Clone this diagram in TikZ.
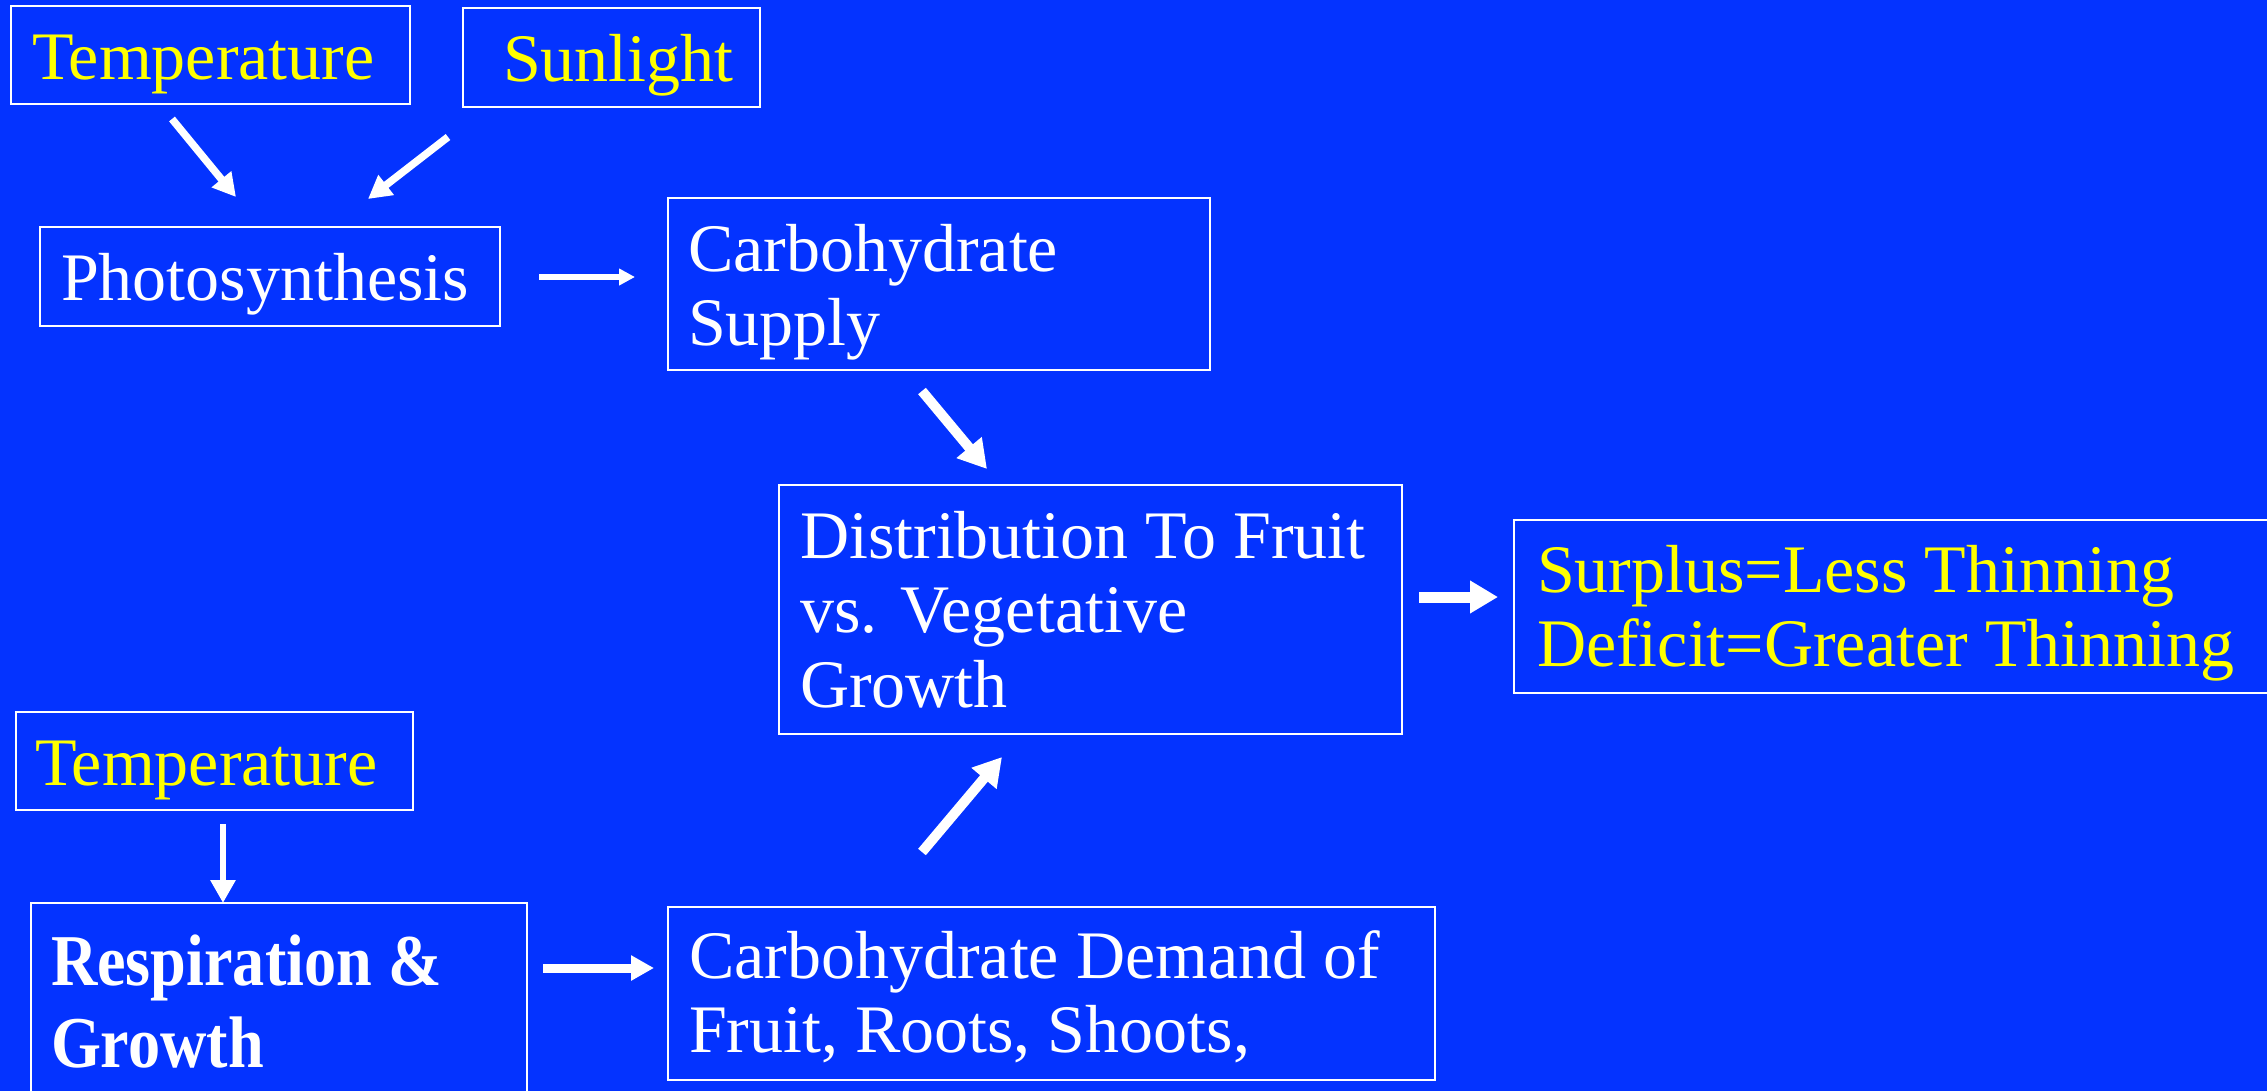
\documentclass[tikz,border=0pt]{standalone}
\usepackage{fontspec}
\setmainfont{Liberation Serif}
\newfontfamily\respfont{Liberation Serif}[FakeStretch=0.88]
\usetikzlibrary{arrows.meta}
\definecolor{bgblue}{RGB}{4,51,255}
\definecolor{txtyellow}{RGB}{255,255,0}
\newcommand{\mlines}[1]{\begin{tabular}[t]{@{}l@{}}#1\end{tabular}}
\tikzset{
  box/.style={draw=white, line width=2.5pt, rectangle, inner sep=0pt, outer sep=0pt},
  txt/.style={anchor=base west, inner sep=0pt, outer sep=0pt, text=white,
    font=\fontsize{68}{74.5}\selectfont},
  ylw/.style={text=txtyellow},
  bigarrow/.style={draw=white, line width=#1, -{Triangle[length=28pt,width=31pt]}},
  midarrow/.style={draw=white, line width=#1, -{Triangle[length=23pt,width=24pt]}},
  smallarrow/.style={draw=white, line width=5.5pt, -{Triangle[length=16pt,width=16pt]}},
}
\begin{document}
\begin{tikzpicture}[x=1pt,y=-1pt]
\useasboundingbox (0,0) rectangle (2267,1090);
\fill[bgblue] (-20,-20) rectangle (2287,1110);
\clip (-20,-20) rectangle (2287,1110);

% boxes
\node[box, minimum width=399pt, minimum height=98pt] (tempA) at (210.5,55) {};
\node[box, minimum width=297pt, minimum height=99pt] (sun) at (611.5,57.5) {};
\node[box, minimum width=460pt, minimum height=99pt] (photo) at (270,276.5) {};
\node[box, minimum width=542pt, minimum height=172pt] (supply) at (939,284) {};
\node[box, minimum width=623pt, minimum height=249pt] (dist) at (1090.5,609.5) {};
\node[box, minimum width=786pt, minimum height=173pt] (surplus) at (1907,606.5) {};
\node[box, minimum width=397pt, minimum height=98pt] (tempB) at (214.5,761) {};
\node[box, minimum width=496pt, minimum height=217pt] (resp) at (279,1011.5) {};
\node[box, minimum width=767pt, minimum height=173pt] (demand) at (1051.5,993.5) {};

% texts
\node[txt, ylw] (tempAt) at (32,79) {Temperature};
\node[txt, ylw] (sunt) at (503,81.5) {Sunlight};
\node[txt] (photot) at (61,300) {Photosynthesis};
\node[txt] (supplyt) at (688,271) {\mlines{Carbohydrate\\Supply}};
\node[txt] (distt) at (800,558) {\mlines{Distribution To Fruit\\vs. Vegetative\\Growth}};
\node[txt, ylw] (surplust) at (1537,592) {\mlines{Surplus=Less Thinning\\Deficit=Greater Thinning}};
\node[txt, ylw] (tempBt) at (35,785) {Temperature};
\node[txt, font=\respfont\bfseries\fontsize{73}{82}\selectfont] (respt) at (51,985) {\mlines{Respiration \&\\Growth}};
\node[txt] (demandt) at (689,978) {\mlines{Carbohydrate Demand of\\Fruit, Roots, Shoots,}};

% arrow end points
\coordinate (a1s) at (172,119); \coordinate (a1e) at (236,197);
\coordinate (a2s) at (448,137); \coordinate (a2e) at (368,199);
\coordinate (a3s) at (539,277); \coordinate (a3e) at (635,277);
\coordinate (a4s) at (922,391); \coordinate (a4e) at (987,469);
\coordinate (a5s) at (1419,597); \coordinate (a5e) at (1498,597);
\coordinate (a6s) at (223,824); \coordinate (a6e) at (223,903);
\coordinate (a7s) at (543,968); \coordinate (a7e) at (654,968);
\coordinate (a8s) at (922,852); \coordinate (a8e) at (1002,757);

\draw[midarrow=7.5pt] (a1s) -- (a1e);
\draw[midarrow=7.5pt] (a2s) -- (a2e);
\draw[smallarrow] (a3s) -- (a3e);
\draw[bigarrow=10pt] (a4s) -- (a4e);
\draw[bigarrow=11pt] (a5s) -- (a5e);
\draw[midarrow=6.5pt] (a6s) -- (a6e);
\draw[midarrow=9pt] (a7s) -- (a7e);
\draw[bigarrow=10pt] (a8s) -- (a8e);
\end{tikzpicture}
\end{document}
